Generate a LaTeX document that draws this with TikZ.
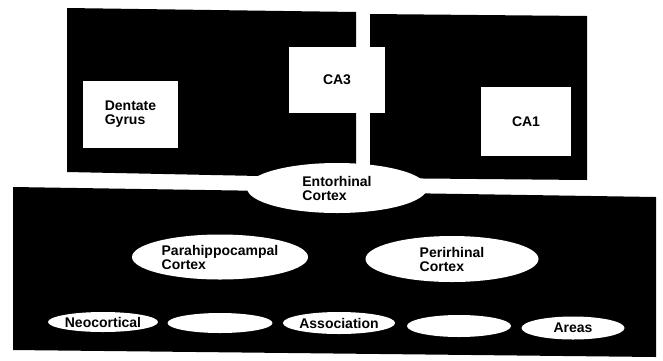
\documentclass[tikz,border=0pt]{standalone}
\usepackage{fontspec}
\setmainfont{Liberation Sans}
\usetikzlibrary{shapes.geometric}
\begin{document}
\begin{tikzpicture}[x=1pt,y=-1pt,
  blk/.style={fill=black,draw=none},
  lbl/.style={font=\fontsize{14}{14}\selectfont\bfseries,align=left,text=black},
  wbox/.style={rectangle,fill=white,draw=none,inner sep=0pt,lbl},
  well/.style={ellipse,fill=white,draw=none,inner sep=0pt,lbl}]
\useasboundingbox[fill=white] (0,0) rectangle (663,360);
% black regions
\fill[blk] (67,8) -- (356,12) -- (356,178) -- (67,172) -- cycle;
\fill[blk] (370,14) -- (587,16) -- (587,180) -- (370,178) -- cycle;
\fill[blk] (13,187) -- (656,197) -- (656,357) -- (13,350) -- cycle;
% hippocampal boxes
\node[wbox,minimum width=95pt,minimum height=67pt] (dg) at (130.5,114.5) {Dentate\\Gyrus};
\node[wbox,minimum width=96pt,minimum height=66pt] (ca3) at (337,80) {CA3};
\node[wbox,minimum width=90pt,minimum height=69pt] (ca1) at (526,121.5) {CA1};
% cortical ellipses
\node[well,minimum width=180pt,minimum height=50pt] (ec) at (337,188) {Entorhinal\\Cortex};
\node[well,minimum width=176pt,minimum height=45pt] (ph) at (220,257) {Parahippocampal\\Cortex};
\node[well,minimum width=173pt,minimum height=46pt] (pr) at (452,259) {Perirhinal\\Cortex};
\node[well,minimum width=110pt,minimum height=20pt] (n1) at (103,322) {Neocortical};
\node[well,minimum width=105pt,minimum height=20pt] (n2) at (220,323) {};
\node[well,minimum width=108pt,minimum height=22pt] (n3) at (339,323) {Association};
\node[well,minimum width=104pt,minimum height=22pt] (n4) at (459,326) {};
\node[well,minimum width=103pt,minimum height=23pt] (n5) at (573,328) {Areas};
\end{tikzpicture}
\end{document}
